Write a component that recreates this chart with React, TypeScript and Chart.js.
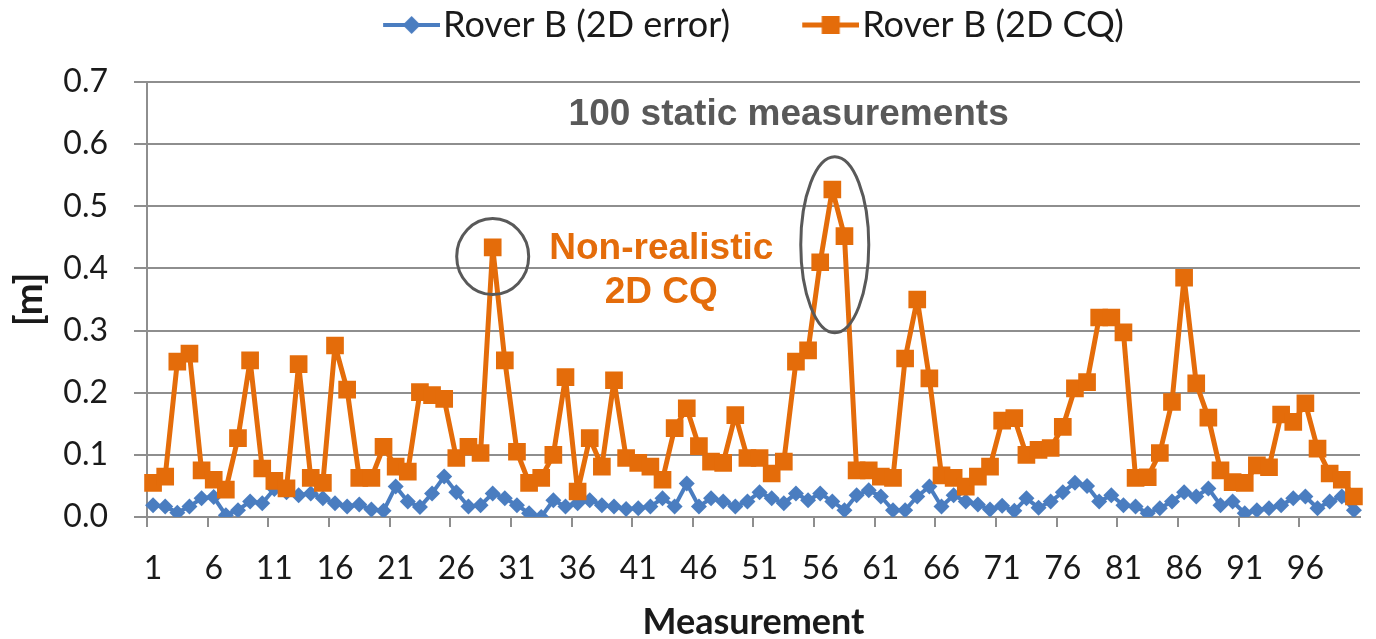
import React, { useEffect, useRef } from "react";
import { Chart, registerables } from "chart.js";

Chart.register(...registerables);

const CATEGORIES: string[] = Array.from({ length: 100 }, (_, i) => String(i + 1));

const SERIES_ERROR_LABEL = "Rover B (2D error)";
const SERIES_CQ_LABEL = "Rover B (2D CQ)";

const ERROR_2D: number[] = [
  0.019, 0.017, 0.007, 0.017, 0.03, 0.032, 0.003, 0.011, 0.025, 0.022,
  0.045, 0.04, 0.035, 0.038, 0.03, 0.022, 0.017, 0.02, 0.012, 0.01,
  0.049, 0.025, 0.016, 0.038, 0.065, 0.04, 0.017, 0.019, 0.038, 0.03,
  0.019, 0.006, 0.0, 0.027, 0.017, 0.022, 0.027, 0.019, 0.017, 0.013,
  0.014, 0.017, 0.03, 0.017, 0.054, 0.017, 0.03, 0.025, 0.017, 0.025,
  0.04, 0.03, 0.022, 0.038, 0.027, 0.038, 0.025, 0.011, 0.035, 0.043,
  0.033, 0.011, 0.011, 0.033, 0.049, 0.017, 0.035, 0.025, 0.02, 0.012,
  0.018, 0.01, 0.03, 0.015, 0.025, 0.04, 0.055, 0.05, 0.025, 0.035,
  0.019, 0.017, 0.006, 0.014, 0.025, 0.04, 0.033, 0.046, 0.019, 0.025,
  0.006, 0.011, 0.014, 0.019, 0.03, 0.033, 0.014, 0.025, 0.033, 0.011,
];

const CQ_2D: number[] = [
  0.055, 0.065, 0.25, 0.263, 0.075, 0.06, 0.044, 0.127, 0.252, 0.078,
  0.058, 0.046, 0.246, 0.063, 0.055, 0.276, 0.205, 0.063, 0.063, 0.113,
  0.081, 0.073, 0.201, 0.196, 0.19, 0.095, 0.113, 0.103, 0.434, 0.252,
  0.105, 0.055, 0.063, 0.1, 0.225, 0.041, 0.127, 0.081, 0.22, 0.095,
  0.087, 0.081, 0.06, 0.143, 0.175, 0.114, 0.089, 0.087, 0.164, 0.095,
  0.095, 0.07, 0.089, 0.25, 0.268, 0.41, 0.527, 0.452, 0.075, 0.075,
  0.065, 0.063, 0.255, 0.35, 0.223, 0.067, 0.063, 0.049, 0.065, 0.081,
  0.155, 0.159, 0.1, 0.108, 0.111, 0.145, 0.207, 0.217, 0.321, 0.321,
  0.297, 0.063, 0.064, 0.103, 0.185, 0.385, 0.215, 0.16, 0.075, 0.056,
  0.055, 0.083, 0.08, 0.165, 0.153, 0.183, 0.11, 0.07, 0.06, 0.033,
];

const Y_MIN = 0;
const Y_MAX = 0.7;
const Y_STEP = 0.1;

const Y_TITLE = "[m]";
const X_TITLE = "Measurement";
const NOTE_TOP = "100 static measurements";
const NOTE_CQ_LINES = ["Non-realistic", "2D CQ"];

const BLUE = "#4A7DC0";
const ORANGE = "#E46C0A";
const GRID = "#8E8E8E";
const NOTE_GRAY = "#595959";
const TEXT = "#1a1a1a";
const FONT = 'Lato, "Open Sans", "Liberation Sans", sans-serif';
const BOLD_FONT = '"Liberation Sans", Arial, sans-serif';

function makeLegendMarker(color: string, lineWidth: number, kind: "diamond" | "square"): HTMLCanvasElement {
  const c = document.createElement("canvas");
  c.width = 72;
  c.height = 24;
  const g = c.getContext("2d")!;
  g.strokeStyle = color;
  g.lineWidth = lineWidth;
  g.beginPath();
  g.moveTo(15, 12);
  g.lineTo(72, 12);
  g.stroke();
  g.fillStyle = color;
  const cx = 43.5;
  if (kind === "diamond") {
    g.beginPath();
    g.moveTo(cx, 3);
    g.lineTo(cx + 9, 12);
    g.lineTo(cx, 21);
    g.lineTo(cx - 9, 12);
    g.closePath();
    g.fill();
  } else {
    g.fillRect(cx - 9, 3, 18, 18);
  }
  return c;
}

export default function App() {
  const ref = useRef<HTMLCanvasElement | null>(null);

  useEffect(() => {
    if (!ref.current) return;
    const blueMarker = makeLegendMarker(BLUE, 4, "diamond");
    const orangeMarker = makeLegendMarker(ORANGE, 5, "square");

    const legendSizer = {
      id: "legendSizer",
      beforeUpdate(chart: any) {
        const lg = chart.legend;
        if (lg && !lg.__patched) {
          const orig = lg.fit;
          lg.fit = function () {
            orig.call(this);
            this.height = 147;
          };
          lg.__patched = true;
        }
      },
    };

    const notes = {
      id: "notes",
      afterDatasetsDraw(chart: any) {
        const { ctx, scales } = chart;
        const x = scales.x;
        const y = scales.y;
        ctx.save();
        ctx.strokeStyle = NOTE_GRAY;
        ctx.lineWidth = 3;
        ctx.beginPath();
        ctx.ellipse(x.getPixelForValue(28), y.getPixelForValue(0.419), 36, 38, 0, 0, Math.PI * 2);
        ctx.stroke();
        ctx.beginPath();
        ctx.ellipse(x.getPixelForValue(56.2), y.getPixelForValue(0.438), 34, 88, 0, 0, Math.PI * 2);
        ctx.stroke();

        ctx.textAlign = "center";
        ctx.textBaseline = "middle";
        ctx.font = `bold 37px ${BOLD_FONT}`;
        ctx.fillStyle = NOTE_GRAY;
        ctx.fillText(NOTE_TOP, x.getPixelForValue(52.4), y.getPixelForValue(0.648));
        ctx.fillStyle = ORANGE;
        ctx.fillText(NOTE_CQ_LINES[0], x.getPixelForValue(41.9), y.getPixelForValue(0.432));
        ctx.fillText(NOTE_CQ_LINES[1], x.getPixelForValue(41.9), y.getPixelForValue(0.36));
        ctx.restore();
      },
    };

    const chart = new Chart(ref.current, {
      type: "line",
      data: {
        labels: CATEGORIES,
        datasets: [
          {
            label: SERIES_ERROR_LABEL,
            data: ERROR_2D,
            borderColor: BLUE,
            backgroundColor: BLUE,
            borderWidth: 4,
            borderJoinStyle: "round",
            pointStyle: "rectRot",
            pointRadius: 8,
            pointBorderWidth: 0,
            pointBackgroundColor: BLUE,
            tension: 0,
            order: 1,
          },
          {
            label: SERIES_CQ_LABEL,
            data: CQ_2D,
            borderColor: ORANGE,
            backgroundColor: ORANGE,
            borderWidth: 5,
            borderJoinStyle: "round",
            pointStyle: "rect",
            pointRadius: 12.5,
            pointBorderWidth: 0,
            pointBackgroundColor: ORANGE,
            tension: 0,
            order: 0,
          },
        ],
      },
      options: {
        responsive: false,
        animation: false,
        devicePixelRatio: 1,
        layout: { padding: { top: -65, left: 0, right: 0, bottom: 0 } },
        plugins: {
          tooltip: { enabled: false },
          legend: {
            display: true,
            position: "top",
            fullSize: false,
            labels: {
              usePointStyle: true,
              pointStyleWidth: 42,
              padding: 72,
              color: TEXT,
              font: { family: FONT, size: 36 },
              generateLabels: () => [
                {
                  text: SERIES_ERROR_LABEL,
                  pointStyle: blueMarker as any,
                  fillStyle: BLUE,
                  strokeStyle: BLUE,
                  lineWidth: 0,
                  hidden: false,
                  datasetIndex: 0,
                  fontColor: TEXT,
                },
                {
                  text: SERIES_CQ_LABEL,
                  pointStyle: orangeMarker as any,
                  fillStyle: ORANGE,
                  strokeStyle: ORANGE,
                  lineWidth: 0,
                  hidden: false,
                  datasetIndex: 1,
                  fontColor: TEXT,
                },
              ],
            },
          },
        },
        scales: {
          x: {
            type: "category",
            offset: true,
            afterFit: (s: any) => {
              s.height = 122;
            },
            grid: {
              offset: true,
              drawOnChartArea: false,
              drawTicks: true,
              tickLength: 10,
              lineWidth: 2,
              color: (c: any) => (c.index % 5 === 0 ? GRID : "rgba(0,0,0,0)"),
            },
            border: { display: true, color: GRID, width: 2 },
            ticks: {
              autoSkip: false,
              maxRotation: 0,
              minRotation: 0,
              padding: 22,
              color: TEXT,
              font: { family: FONT, size: 32 },
              callback: (_v: any, i: number) => (i % 5 === 0 ? CATEGORIES[i] : ""),
            },
            title: {
              display: true,
              text: X_TITLE,
              color: TEXT,
              font: { family: FONT, size: 36, weight: "bold", lineHeight: 0.9 },
              padding: { top: 0, bottom: 0 },
            },
          },
          y: {
            min: Y_MIN,
            max: Y_MAX,
            afterFit: (s: any) => {
              s.width = 147;
            },
            grid: {
              color: GRID,
              lineWidth: 2,
              drawTicks: true,
              tickLength: 13,
              tickColor: GRID,
            },
            border: { display: true, color: GRID, width: 2 },
            ticks: {
              stepSize: Y_STEP,
              padding: 26,
              color: TEXT,
              font: { family: FONT, size: 32 },
              callback: (v: any) => Number(v).toFixed(1),
            },
            title: {
              display: true,
              text: Y_TITLE,
              color: TEXT,
              font: { family: FONT, size: 38, weight: "bold", lineHeight: 1 },
              padding: { top: 11, bottom: 0 },
            },
          },
        },
      },
      plugins: [legendSizer, notes],
    } as any);

    return () => chart.destroy();
  }, []);

  return (
    <div
      style={{
        position: "fixed",
        left: 0,
        top: 0,
        width: 1376,
        height: 639,
        background: "#fff",
        overflow: "hidden",
      }}
    >
      <canvas ref={ref} width={1376} height={639} />
    </div>
  );
}
